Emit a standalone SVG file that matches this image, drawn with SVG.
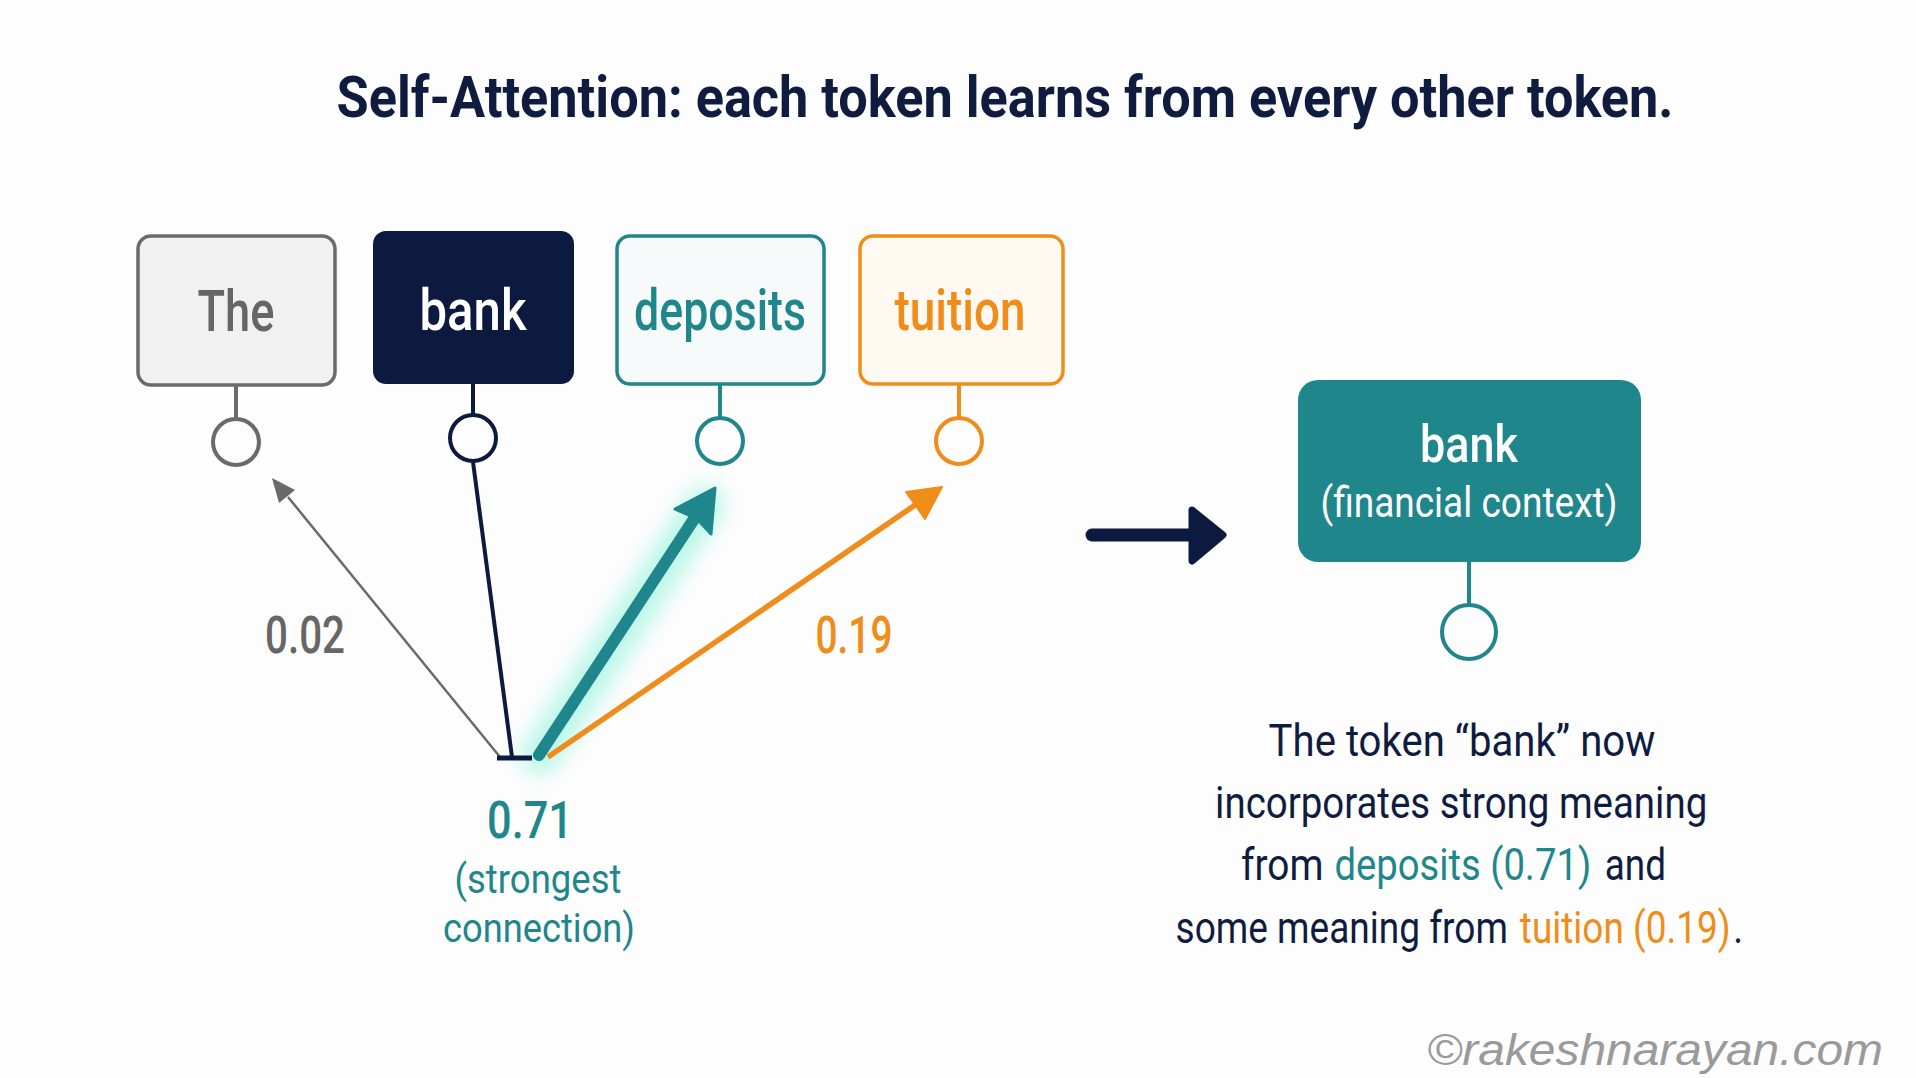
<svg xmlns="http://www.w3.org/2000/svg" width="1916" height="1078" viewBox="0 0 1916 1078">
<style>
.t{font-family:Roboto,"Liberation Sans",sans-serif;text-anchor:middle}
.s{font-family:Roboto,"Liberation Sans",sans-serif;text-anchor:start}
.tok{font-size:57px;font-weight:500}
.stem{stroke-width:4;fill:none}
.dot{stroke-width:4;fill:#fdfdfd}
.para{font-size:44px;fill:#0f1c3f;font-weight:400}
.navy{fill:#0c1a40}
.teal{fill:#1f868c}
.orange{fill:#f08c1a}
.gray{fill:#666666}
</style>
<defs>
<filter id="glow" x="-50%" y="-50%" width="200%" height="200%">
<feGaussianBlur stdDeviation="10"/>
</filter>
</defs>
<rect width="1916" height="1078" fill="#fdfdfd"/>
<text class="t" x="1005" y="117" font-size="58" font-weight="700" fill="#0f1c3f" textLength="1337" lengthAdjust="spacingAndGlyphs">Self-Attention: each token learns from every other token.</text>

<g id="node-the">
<rect x="138" y="236" width="197" height="149" rx="13" fill="#f1f1f1" stroke="#6a6a6a" stroke-width="3.5"/>
<text class="t tok gray" x="236" y="331" textLength="77" lengthAdjust="spacingAndGlyphs">The</text>
<line class="stem" x1="236" y1="386" x2="236" y2="419" stroke="#6a6a6a"/>
<circle class="dot" cx="236" cy="442" r="23" stroke="#6a6a6a"/>
</g>
<g id="node-bank">
<rect x="373" y="231" width="201" height="153" rx="13" fill="#0c1a40"/>
<text class="t tok" x="473" y="330" fill="#ffffff" textLength="107" lengthAdjust="spacingAndGlyphs">bank</text>
<line class="stem" x1="473" y1="384" x2="473" y2="414" stroke="#0c1a40"/>
<circle class="dot" cx="473" cy="438" r="23" stroke="#0c1a40"/>
</g>
<g id="node-deposits">
<rect x="617" y="236" width="207" height="148" rx="13" fill="#f7fafb" stroke="#1f868c" stroke-width="3.5"/>
<text class="t tok teal" x="720" y="330" textLength="172" lengthAdjust="spacingAndGlyphs">deposits</text>
<line class="stem" x1="720" y1="384" x2="720" y2="418" stroke="#1f868c"/>
<circle class="dot" cx="720" cy="441" r="23" stroke="#1f868c"/>
</g>
<g id="node-tuition">
<rect x="860" y="236" width="203" height="148" rx="13" fill="#fff9f1" stroke="#f08c1a" stroke-width="3.5"/>
<text class="t tok orange" x="960" y="330" textLength="131" lengthAdjust="spacingAndGlyphs">tuition</text>
<line class="stem" x1="959" y1="384" x2="959" y2="418" stroke="#f08c1a"/>
<circle class="dot" cx="959" cy="441" r="23" stroke="#f08c1a"/>
</g>

<g id="connectors">
<line x1="540" y1="755" x2="705" y2="505" stroke="#6ff0d2" stroke-width="40" stroke-linecap="round" opacity="0.45" filter="url(#glow)"/>
<line x1="500" y1="757" x2="288" y2="497" stroke="#6a6a6a" stroke-width="2.5"/>
<polygon points="272,478 295,490 279,503" fill="#6a6a6a"/>
<line x1="512" y1="757" x2="473" y2="462" stroke="#0c1a40" stroke-width="4"/>
<line x1="497" y1="758" x2="532" y2="758" stroke="#0c1a40" stroke-width="5"/>
<line x1="539" y1="755" x2="696" y2="516" stroke="#1f868c" stroke-width="12" stroke-linecap="round"/>
<polygon points="715,488 711,534 696,518 675,509" fill="#1f868c" stroke="#1f868c" stroke-width="3" stroke-linejoin="round"/>
<line x1="548" y1="757" x2="918" y2="503" stroke="#f08c1a" stroke-width="5.5"/>
<polygon points="942,487 925,519 916,506 906,492" fill="#f08c1a" stroke="#f08c1a" stroke-width="2" stroke-linejoin="round"/>
<line x1="1092" y1="535" x2="1205" y2="535" stroke="#0c1a40" stroke-width="13" stroke-linecap="round"/>
<polygon points="1192,510 1223,535 1192,561" fill="#0c1a40" stroke="#0c1a40" stroke-width="7" stroke-linejoin="round"/>
</g>

<text class="t gray" x="305" y="653" font-size="52" font-weight="500" textLength="80" lengthAdjust="spacingAndGlyphs">0.02</text>
<text class="t orange" x="854" y="653" font-size="52" font-weight="500" textLength="77" lengthAdjust="spacingAndGlyphs">0.19</text>
<text class="t teal" x="530" y="838" font-size="52" font-weight="500" textLength="86" lengthAdjust="spacingAndGlyphs">0.71</text>
<text class="t teal" x="538" y="893" font-size="40" textLength="167" lengthAdjust="spacingAndGlyphs">(strongest</text>
<text class="t teal" x="539" y="942" font-size="40" textLength="192" lengthAdjust="spacingAndGlyphs">connection)</text>

<g id="node-bank-context">
<rect x="1298" y="380" width="343" height="182" rx="20" fill="#1f868c"/>
<text class="t" x="1469" y="462" font-size="52" font-weight="500" fill="#ffffff" textLength="98" lengthAdjust="spacingAndGlyphs">bank</text>
<text class="t" x="1469" y="517" font-size="42" fill="#ffffff" textLength="297" lengthAdjust="spacingAndGlyphs">(financial context)</text>
<line class="stem" x1="1469" y1="562" x2="1469" y2="604" stroke="#1f868c"/>
<circle class="dot" cx="1469" cy="632" r="27" stroke="#1f868c"/>
</g>

<g id="summary" transform="scale(0.85,1)">
<text class="t para" x="1720" y="756" textLength="455" lengthAdjust="spacingAndGlyphs">The token “bank” now</text>
<text class="t para" x="1719" y="818" textLength="579" lengthAdjust="spacingAndGlyphs">incorporates strong meaning</text>
<text class="s para" x="1460" y="880" textLength="97" lengthAdjust="spacingAndGlyphs">from</text>
<text class="s para teal" x="1570" y="880" textLength="302" lengthAdjust="spacingAndGlyphs">deposits (0.71)</text>
<text class="s para" x="1888" y="880" textLength="72" lengthAdjust="spacingAndGlyphs">and</text>
<text class="s para" x="1383" y="943" textLength="391" lengthAdjust="spacingAndGlyphs">some meaning from</text>
<text class="s para orange" x="1788" y="943" textLength="248" lengthAdjust="spacingAndGlyphs">tuition (0.19)</text>
<text class="s para" x="2039" y="943">.</text>
</g>

<text x="1427" y="1065" font-family="'Liberation Sans',Arial,sans-serif" font-style="italic" font-size="44" fill="#9a9a9a" textLength="456" lengthAdjust="spacingAndGlyphs">©rakeshnarayan.com</text>
</svg>
